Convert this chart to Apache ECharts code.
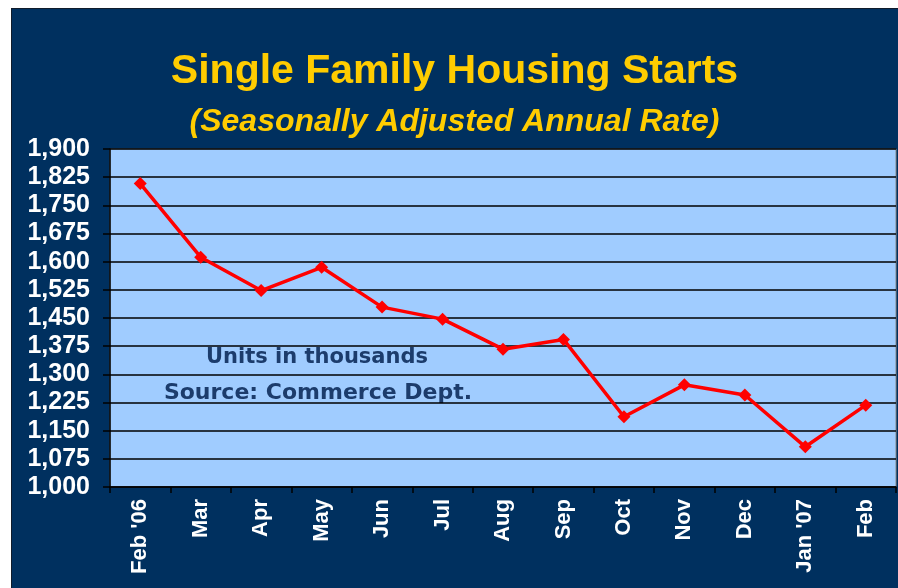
<!DOCTYPE html>
<html>
<head>
<meta charset="utf-8">
<script src="https://cdn.jsdelivr.net/npm/echarts@6/dist/echarts.min.js"></script>
<style>
  html, body { margin: 0; padding: 0; background: #ffffff; }
  #wrap { position: absolute; left: 0; top: 0; width: 898px; height: 588px; background: #ffffff; }
  #chart { position: absolute; left: 11px; top: 8px; width: 887px; height: 580px; background: #00305f; box-shadow: inset 1px 1px 0 #101c2c; }
</style>
</head>
<body>
<div id="wrap"><div id="chart"></div></div>
<script>
// months, Feb '06 .. Feb '07
const months = ["Feb '06", 'Mar', 'Apr', 'May', 'Jun', 'Jul', 'Aug', 'Sep', 'Oct', 'Nov', 'Dec', "Jan '07", 'Feb'];
// starts, thousands of units (SAAR)
const starts = [1808, 1612, 1523, 1585, 1479, 1447, 1367, 1393, 1187, 1272, 1245, 1107, 1218];
const notes = ['Units in thousands', 'Source: Commerce Dept.'];

const chart = echarts.init(document.getElementById('chart'), null, { renderer: 'canvas' });

const option = {
  animation: false,
  backgroundColor: 'transparent',
  title: [
    {
      text: 'Single Family Housing Starts',
      left: 'center',
      top: 38,
      textStyle: { color: '#ffcc00', fontSize: 41, fontWeight: 'bold', fontFamily: 'Liberation Sans, Arial, sans-serif' }
    },
    {
      text: '(Seasonally Adjusted Annual Rate)',
      left: 'center',
      top: 93,
      textStyle: { color: '#ffcc00', fontSize: 32, fontWeight: 'bold', fontStyle: 'italic', fontFamily: 'Liberation Sans, Arial, sans-serif' }
    }
  ],
  grid: {
    left: 99,
    right: 2,
    top: 141,
    bottom: 101,
    show: true,
    backgroundColor: '#a0ccff',
    borderColor: '#8a8a8a',
    borderWidth: 1
  },
  xAxis: {
    type: 'category',
    data: months,
    boundaryGap: true,
    axisLine: { lineStyle: { color: '#000000', width: 1.5 } },
    axisTick: { show: true, length: 6, lineStyle: { color: '#000000', width: 1.5 } },
    axisLabel: {
      interval: 0,
      rotate: 90,
      margin: 12,
      color: '#ffffff',
      fontSize: 22,
      fontWeight: 'bold',
      fontFamily: 'Liberation Sans, Arial, sans-serif'
    },
    splitLine: { show: false }
  },
  yAxis: {
    type: 'value',
    min: 1000,
    max: 1900,
    interval: 75,
    axisLine: { show: true, lineStyle: { color: '#000000', width: 1.5 } },
    axisTick: { show: true, length: 7, lineStyle: { color: '#000000', width: 1.5 } },
    axisLabel: {
      margin: 20,
      color: '#ffffff',
      fontSize: 25,
      fontWeight: 'bold',
      fontFamily: 'Liberation Sans, Arial, sans-serif',
      formatter: (v) => v.toLocaleString('en-US')
    },
    splitLine: { show: true, lineStyle: { color: '#000000', width: 1.5 } }
  },
  graphic: [
    {
      type: 'text',
      x: 306,
      y: 350,
      style: { text: notes[0], fill: '#1c3c6c', align: 'center', verticalAlign: 'middle', font: 'bold 21px "DejaVu Sans", Verdana, sans-serif' }
    },
    {
      type: 'text',
      x: 307,
      y: 385,
      style: { text: notes[1], fill: '#1c3c6c', align: 'center', verticalAlign: 'middle', font: 'bold 22px "DejaVu Sans", Verdana, sans-serif' }
    }
  ],
  series: [
    {
      type: 'line',
      data: starts,
      symbol: 'diamond',
      symbolSize: 13,
      itemStyle: { color: '#ff0000' },
      lineStyle: { color: '#ff0000', width: 3.5 }
    }
  ]
};

chart.setOption(option);
</script>
</body>
</html>
